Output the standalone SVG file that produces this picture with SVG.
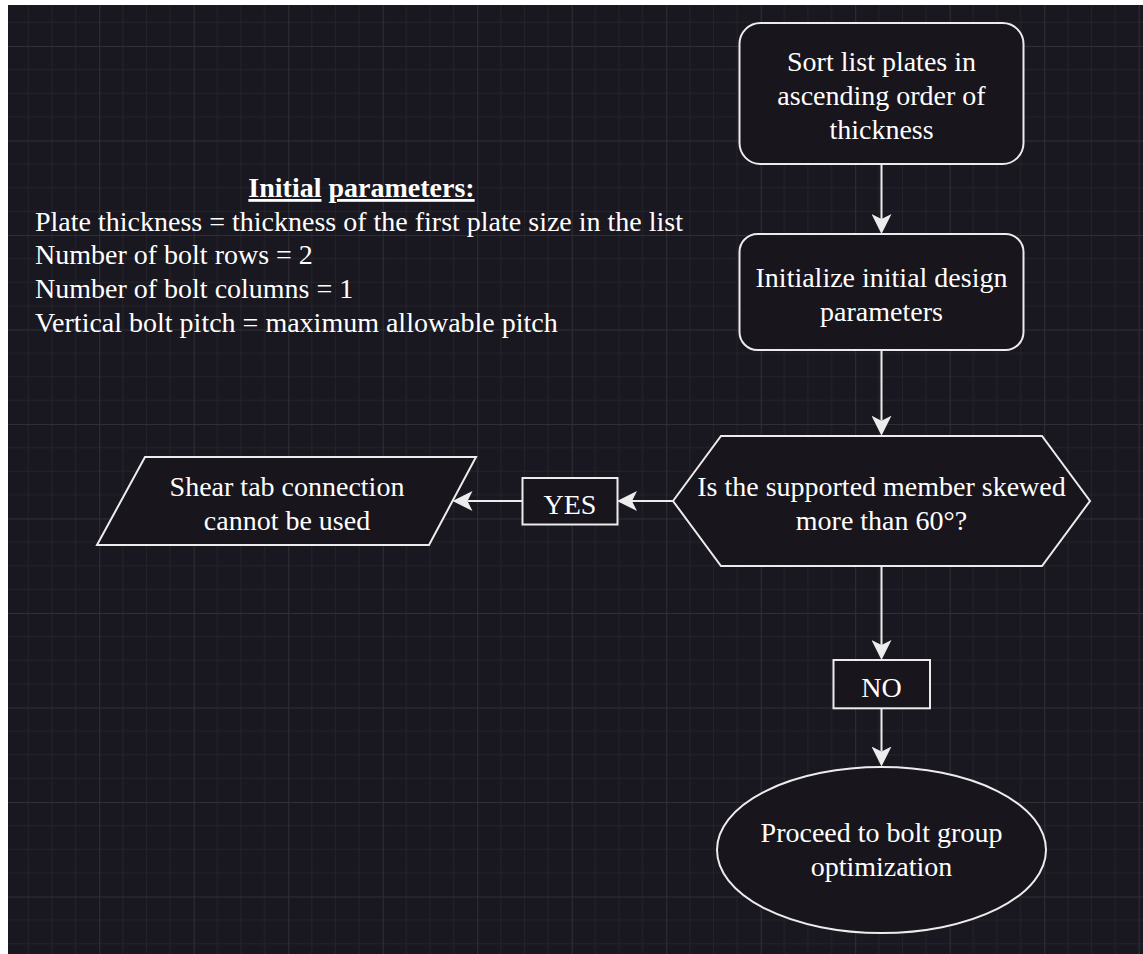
<svg xmlns="http://www.w3.org/2000/svg" width="1143" height="954" viewBox="0 0 1143 954">
  <style>
    .node { fill: #18151c; stroke: #ececec; stroke-width: 2; }
    .edge { fill: none; stroke: #ececec; stroke-width: 2; marker-end: url(#arrow); }
    .t { font-family: "Liberation Serif", "Times New Roman", serif; font-size: 28px; fill: #ffffff; text-anchor: middle; }
    .tl { font-family: "Liberation Serif", "Times New Roman", serif; font-size: 28px; fill: #ffffff; }
    .minor { stroke: #25232a; stroke-width: 1; }
    .major { stroke: #312f36; stroke-width: 1; }
  </style>
  <defs>
    <pattern id="grid" patternUnits="userSpaceOnUse" x="4.7" y="-48.5" width="94.5" height="94.5">
      <line class="minor" x1="23.625" y1="0" x2="23.625" y2="94.5"/>
      <line class="minor" x1="47.25" y1="0" x2="47.25" y2="94.5"/>
      <line class="minor" x1="70.875" y1="0" x2="70.875" y2="94.5"/>
      <line class="minor" x1="0" y1="23.625" x2="94.5" y2="23.625"/>
      <line class="minor" x1="0" y1="47.25" x2="94.5" y2="47.25"/>
      <line class="minor" x1="0" y1="70.875" x2="94.5" y2="70.875"/>
      <line class="major" x1="0.5" y1="0" x2="0.5" y2="94.5"/>
      <line class="major" x1="0" y1="0.5" x2="94.5" y2="0.5"/>
    </pattern>
    <marker id="arrow" viewBox="0 0 20 20" refX="5" refY="10" markerWidth="20" markerHeight="20" markerUnits="userSpaceOnUse" orient="auto">
      <path d="M0,0 L20,10 L0,20 L5,10 Z" fill="#ececec"/>
    </marker>
  </defs>

  <!-- canvas -->
  <rect x="0" y="0" width="1143" height="954" fill="#ffffff"/>
  <rect x="8" y="5" width="1135" height="949" fill="#19171f"/>
  <rect x="8" y="5" width="1135" height="949" fill="url(#grid)"/>

  <!-- free text: initial parameters -->
  <g id="initial-parameters">
    <text class="t" x="361.5" y="197" font-weight="bold"><tspan text-decoration="underline">Initial</tspan> <tspan text-decoration="underline">parameters:</tspan></text>
    <text class="tl" x="35" y="230.6">Plate thickness = thickness of the first plate size in the list</text>
    <text class="tl" x="35" y="264">Number of bolt rows = 2</text>
    <text class="tl" x="35" y="298">Number of bolt columns = 1</text>
    <text class="tl" x="35" y="332">Vertical bolt pitch = maximum allowable pitch</text>
  </g>

  <!-- connectors -->
  <g id="connectors">
    <path class="edge" d="M881.5,164 V219"/>
    <path class="edge" d="M881.5,350 V420.7"/>
    <path class="edge" d="M673,501 H632"/>
    <path class="edge" d="M522.5,501 H467.5"/>
    <path class="edge" d="M881.5,566 V645"/>
    <path class="edge" d="M881.5,708.3 V751.5"/>
  </g>

  <g id="sort-plates">
    <rect class="node" x="739.5" y="23" width="284" height="141" rx="21" ry="21"/>
    <text class="t" x="881.5" y="71.3">Sort list plates in</text>
    <text class="t" x="881.5" y="105.3">ascending order of</text>
    <text class="t" x="881.5" y="139.3">thickness</text>
  </g>

  <g id="init-params">
    <rect class="node" x="739.5" y="234" width="284" height="116" rx="18" ry="18"/>
    <text class="t" x="881.5" y="287">Initialize initial design</text>
    <text class="t" x="881.5" y="320.6">parameters</text>
  </g>

  <g id="skew-check">
    <polygon class="node" points="673,501 721,436 1042,436 1090,501 1042,566 721,566"/>
    <text class="t" x="881.5" y="495.5">Is the supported member skewed</text>
    <text class="t" x="881.5" y="529.5">more than 60°?</text>
  </g>

  <g id="label-yes">
    <rect class="node" x="522.5" y="478" width="95" height="46.5"/>
    <text class="t" x="570" y="513.5">YES</text>
  </g>

  <g id="not-usable">
    <polygon class="node" points="145,457 476,457 429,545 97,545"/>
    <text class="t" x="287" y="495.5">Shear tab connection</text>
    <text class="t" x="287" y="529.5">cannot be used</text>
  </g>

  <g id="label-no">
    <rect class="node" x="833.5" y="660" width="96.5" height="48.3"/>
    <text class="t" x="881.5" y="696.5">NO</text>
  </g>

  <g id="bolt-group">
    <ellipse class="node" cx="881.5" cy="850" rx="164.5" ry="83"/>
    <text class="t" x="881.5" y="842">Proceed to bolt group</text>
    <text class="t" x="881.5" y="876">optimization</text>
  </g>
</svg>
